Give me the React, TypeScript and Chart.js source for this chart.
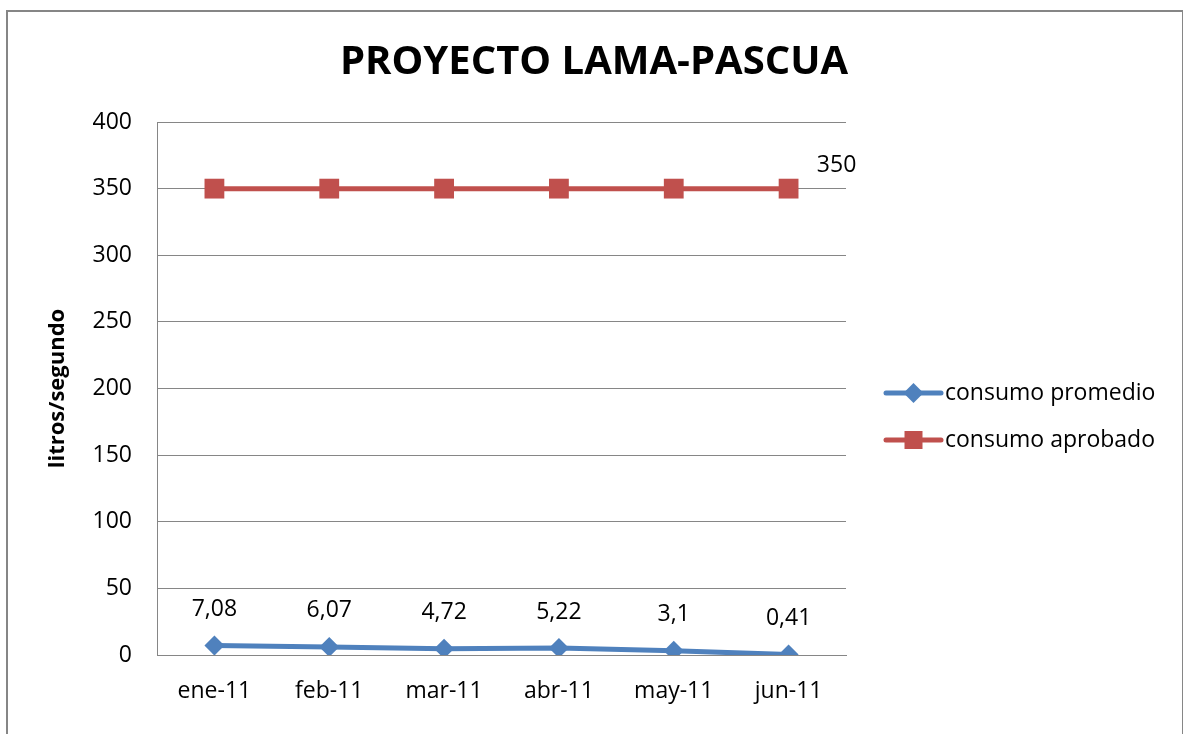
import React, { useEffect, useRef } from "react";
import { Chart, registerables } from "chart.js";

Chart.register(...registerables);

const chartTitle = "PROYECTO LAMA-PASCUA";
const yAxisTitle = "litros/segundo";
const months = ["ene-11", "feb-11", "mar-11", "abr-11", "may-11", "jun-11"];
const seriesNames = ["consumo promedio", "consumo aprobado"];
const consumoPromedio = [7.08, 6.07, 4.72, 5.22, 3.1, 0.41];
const consumoAprobado = [350, 350, 350, 350, 350, 350];
const yMin = 0;
const yMax = 400;
const yStep = 50;

const BLUE = "#4F81BD";
const RED = "#C0504D";
const GRID = "#868686";
const FONT = "'Open Sans', 'Liberation Sans', sans-serif";

const fmt = (v: number) => String(v).replace(".", ",");

const overlayPlugin = {
  id: "overlay",
  afterDatasetsDraw(chart: any) {
    const ctx = chart.ctx;
    const area = chart.chartArea;
    ctx.save();
    // title
    ctx.fillStyle = "#000";
    ctx.font = `bold 40px ${FONT}`;
    ctx.textAlign = "center";
    ctx.textBaseline = "middle";
    ctx.fillText(chartTitle, 594, 63);

    // data labels
    ctx.font = `23px ${FONT}`;
    const m0 = chart.getDatasetMeta(0);
    m0.data.forEach((el: any, i: number) => {
      ctx.fillText(fmt(chart.data.datasets[0].data[i]), el.x, el.y - 36);
    });
    const m1 = chart.getDatasetMeta(1);
    const last = m1.data.length - 1;
    const lel = m1.data[last];
    ctx.fillText(fmt(chart.data.datasets[1].data[last]), lel.x + 48, lel.y - 23);

    // legend
    const lx0 = area.right + 40;
    const lx1 = area.right + 95;
    const rows = [393, 440];
    chart.data.datasets.forEach((ds: any, i: number) => {
      const y = rows[i];
      ctx.strokeStyle = ds.borderColor;
      ctx.lineWidth = 5;
      ctx.lineCap = "round";
      ctx.beginPath();
      ctx.moveTo(lx0, y);
      ctx.lineTo(lx1, y);
      ctx.stroke();
      ctx.fillStyle = ds.borderColor;
      const cx = (lx0 + lx1) / 2;
      ctx.beginPath();
      if (ds.pointStyle === "rectRot") {
        const r = 10;
        ctx.moveTo(cx, y - r);
        ctx.lineTo(cx + r, y);
        ctx.lineTo(cx, y + r);
        ctx.lineTo(cx - r, y);
        ctx.closePath();
      } else {
        ctx.rect(cx - 9, y - 9, 18, 18);
      }
      ctx.fill();
      ctx.fillStyle = "#000";
      ctx.textAlign = "left";
      ctx.textBaseline = "middle";
      ctx.font = `23px ${FONT}`;
      ctx.fillText(ds.label, lx1 + 4, y);
    });
    ctx.restore();
  },
};

export default function App() {
  const ref = useRef<HTMLCanvasElement>(null);
  useEffect(() => {
    if (!ref.current) return;
    const chart = new Chart(ref.current, {
      type: "line",
      data: {
        labels: months,
        datasets: [
          {
            label: seriesNames[0],
            data: consumoPromedio,
            borderColor: BLUE,
            backgroundColor: BLUE,
            borderWidth: 5,
            pointStyle: "rectRot",
            pointRadius: 10,
            pointBorderWidth: 0,
            tension: 0,
          },
          {
            label: seriesNames[1],
            data: consumoAprobado,
            borderColor: RED,
            backgroundColor: RED,
            borderWidth: 5,
            pointStyle: "rect",
            pointRadius: 14,
            pointBorderWidth: 0,
            tension: 0,
          },
        ],
      },
      options: {
        animation: false,
        responsive: false,
        devicePixelRatio: 1,
        layout: { padding: { left: 20, top: 122, right: 337, bottom: 0 } },
        plugins: {
          legend: { display: false },
          title: { display: false },
          tooltip: { enabled: false },
        },
        scales: {
          x: {
            offset: true,
            grid: { display: false, drawTicks: false },
            border: { color: GRID, width: 1 },
            ticks: { color: "#000", font: { family: FONT, size: 23 }, padding: 23 },
            afterFit: (s: any) => {
              s.height = 79;
            },
          },
          y: {
            min: yMin,
            max: yMax,
            ticks: {
              stepSize: yStep,
              color: "#000",
              font: { family: FONT, size: 23 },
              padding: 25,
            },
            grid: { color: GRID, lineWidth: 1, drawTicks: false },
            border: { color: GRID, width: 1 },
            title: {
              display: true,
              text: yAxisTitle,
              color: "#000",
              font: { family: FONT, size: 22, weight: "bold" },
              padding: { top: 25, bottom: 0 },
            },
            afterFit: (s: any) => {
              s.width = 137;
            },
          },
        },
      },
      plugins: [overlayPlugin],
    });
    return () => chart.destroy();
  }, []);
  return (
    <div style={{ position: "absolute", left: 0, top: 0, width: 1183, height: 734, overflow: "hidden", background: "#fff" }}>
      <canvas ref={ref} width={1183} height={734} style={{ position: "absolute", left: 0, top: 0 }} />
      <div
        style={{
          position: "absolute",
          left: 6,
          top: 10,
          width: 1174,
          height: 800,
          border: `2px solid ${GRID}`,
          pointerEvents: "none",
        }}
      />
    </div>
  );
}
